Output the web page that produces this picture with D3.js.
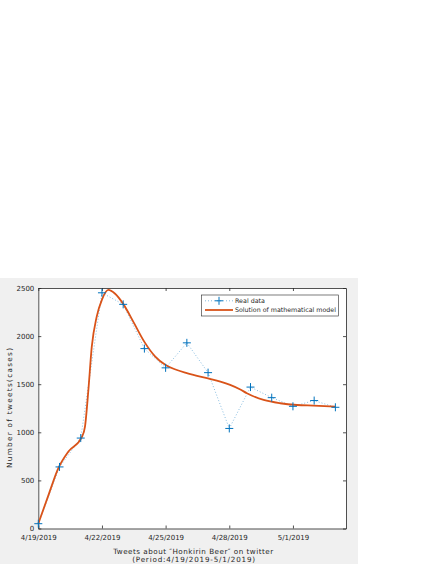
<!DOCTYPE html>
<html>
<head>
<meta charset="utf-8">
<script src="https://cdn.jsdelivr.net/npm/d3@7"></script>
<style>
  body { margin: 0; background: #fff; }
  text { font-family: "DejaVu Sans", sans-serif; fill: #262626; }
</style>
</head>
<body>
<div id="chart"></div>
<script>
// Real data (one value per day, 4/19 .. 5/3)
var dayLabels = ["4/19", "4/20", "4/21", "4/22", "4/23", "4/24", "4/25", "4/26", "4/27", "4/28", "4/29", "4/30", "5/1", "5/2", "5/3"];
var realData = [50, 640, 940, 2450, 2330, 1870, 1670, 1930, 1620, 1040, 1470, 1360, 1270, 1330, 1260];

// Model curve (day offset, value)
var modelDays = [0, 0.5, 0.94, 1.42, 2.05, 2.2, 2.36, 2.52, 2.75, 3.0, 3.3, 3.62, 4.0, 4.5, 5.0, 5.5, 6.0, 6.5, 7.0, 8.0, 8.58, 9.04, 9.52, 9.83, 10.62, 11.4, 12.19, 12.97, 14.0];
var modelValues = [50, 360, 625, 800, 950, 1060, 1440, 1890, 2200, 2380, 2480, 2440, 2335, 2140, 1940, 1790, 1700, 1650, 1615, 1560, 1527, 1493, 1445, 1406, 1336, 1302, 1284, 1277, 1267];

// Axis ticks
var xTickDays = [0, 3, 6, 9, 12];
var xTickLabels = ["4/19/2019", "4/22/2019", "4/25/2019", "4/28/2019", "5/1/2019"];
var yTicks = [0, 500, 1000, 1500, 2000, 2500];

var w = 436, h = 564;
var plot = {left: 38.3, top: 288, right: 346, bottom: 528.5};

var svg = d3.select("#chart").append("svg")
    .attr("width", w)
    .attr("height", h);

//Gray figure background
svg.append("rect")
    .attr("x", 0).attr("y", 278)
    .attr("width", 358).attr("height", h - 278)
    .attr("fill", "#f0f0f0");

//White axes area
svg.append("rect")
    .attr("x", plot.left).attr("y", plot.top)
    .attr("width", plot.right - plot.left).attr("height", plot.bottom - plot.top)
    .attr("fill", "white");

var x = d3.scaleLinear().domain([0, 14.5]).range([plot.left, plot.right]);
var y = d3.scaleLinear().domain([0, 2500]).range([plot.bottom, plot.top]);

//Axes with inward ticks on all four sides
var axisColor = "#262626";
var fs = "7px";

var xb = svg.append("g").attr("transform", "translate(0," + plot.bottom + ")")
    .call(d3.axisBottom(x).tickValues(xTickDays).tickSizeInner(-3).tickSizeOuter(0)
        .tickFormat((d, i) => xTickLabels[i]));
xb.selectAll("text").attr("y", 11.5).attr("dy", 0).style("font-size", fs);

svg.append("g").attr("transform", "translate(0," + plot.top + ")")
    .call(d3.axisTop(x).tickValues(xTickDays).tickSizeInner(-3).tickSizeOuter(0).tickFormat(""));

var yl = svg.append("g").attr("transform", "translate(" + plot.left + ",0)")
    .call(d3.axisLeft(y).tickValues(yTicks).tickSizeInner(-3).tickSizeOuter(0).tickFormat(d3.format("d")));
yl.selectAll("text").attr("x", -4).style("font-size", fs);

svg.append("g").attr("transform", "translate(" + plot.right + ",0)")
    .call(d3.axisRight(y).tickValues(yTicks).tickSizeInner(-3).tickSizeOuter(0).tickFormat(""));

svg.selectAll(".domain").attr("stroke", axisColor).attr("stroke-width", 0.8);
svg.selectAll(".tick line").attr("stroke", axisColor).attr("stroke-width", 0.8);

//Real data: dotted line with + markers
var blue = "#0072BD";
var orange = "#D95319";

var realLine = d3.line()
    .x((d, i) => x(i))
    .y(d => y(d));

svg.append("path")
    .datum(realData)
    .attr("d", realLine)
    .attr("fill", "none")
    .attr("stroke", blue)
    .attr("stroke-width", 0.8)
    .attr("stroke-dasharray", "1,2")
    .attr("opacity", 0.6);

//Model curve
var modelLine = d3.line()
    .x((d, i) => x(modelDays[i]))
    .y(d => y(d))
    .curve(d3.curveMonotoneX);

svg.append("path")
    .datum(modelValues)
    .attr("d", modelLine)
    .attr("fill", "none")
    .attr("stroke", orange)
    .attr("stroke-width", 1.8);

//Markers on top
svg.append("g")
    .selectAll("path")
    .data(realData)
    .enter()
    .append("path")
    .attr("transform", (d, i) => "translate(" + x(i) + "," + y(d) + ")")
    .attr("d", "M-4,0H4M0,-4V4")
    .attr("stroke", blue)
    .attr("stroke-width", 1);

//Legend
var lg = svg.append("g").attr("class", "legend");
lg.append("rect")
    .attr("x", 201.5).attr("y", 295)
    .attr("width", 137).attr("height", 21)
    .attr("fill", "white")
    .attr("stroke", axisColor)
    .attr("stroke-width", 0.6);

lg.append("line")
    .attr("x1", 205).attr("x2", 233).attr("y1", 300.8).attr("y2", 300.8)
    .attr("stroke", blue).attr("stroke-width", 0.8).attr("stroke-dasharray", "1,2").attr("opacity", 0.6);
lg.append("path")
    .attr("transform", "translate(219,300.8)")
    .attr("d", "M-4,0H4M0,-4V4")
    .attr("stroke", blue).attr("stroke-width", 1);
lg.append("text")
    .attr("x", 235).attr("y", 303.2)
    .attr("textLength", 30).attr("lengthAdjust", "spacingAndGlyphs")
    .style("font-size", "6.3px")
    .text("Real data");

lg.append("line")
    .attr("x1", 205).attr("x2", 233).attr("y1", 310).attr("y2", 310)
    .attr("stroke", orange).attr("stroke-width", 1.8);
lg.append("text")
    .attr("x", 235).attr("y", 312.4)
    .attr("textLength", 101).attr("lengthAdjust", "spacingAndGlyphs")
    .style("font-size", "6.3px")
    .text("Solution of mathematical model");

//Axis labels
svg.append("text")
    .attr("transform", "translate(11.5,408) rotate(-90)")
    .attr("text-anchor", "middle")
    .attr("textLength", 120).attr("lengthAdjust", "spacing")
    .style("font-size", "7.2px")
    .text("Number of tweets(cases)");

var cx = (plot.left + plot.right) / 2;
svg.append("text")
    .attr("x", cx + 1).attr("y", 553.5)
    .attr("text-anchor", "middle")
    .attr("textLength", 160).attr("lengthAdjust", "spacing")
    .style("font-size", "7.2px")
    .text("Tweets about ″Honkirin Beer″ on twitter");
svg.append("text")
    .attr("x", cx + 1.5).attr("y", 562.3)
    .attr("text-anchor", "middle")
    .attr("textLength", 123).attr("lengthAdjust", "spacing")
    .style("font-size", "7.2px")
    .text("(Period:4/19/2019-5/1/2019)");
</script>
</body>
</html>
